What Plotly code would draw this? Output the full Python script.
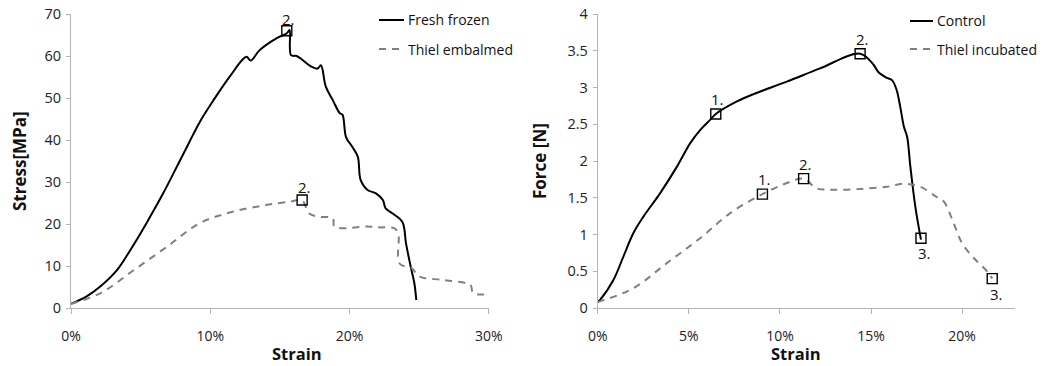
import plotly.graph_objects as go

# ---------------- data (strain in %) ----------------
ff_strain = [0, 1.1, 2.1, 3.3, 4.3, 5.42, 6.62, 7.81, 8.53, 9.25, 10.2, 11.4, 12.6, 12.9, 13.55, 14.75,
             15.5, 15.7, 15.8, 16.2, 16.5, 17.25, 17.7, 17.95, 18.3, 18.8, 19.3, 19.5, 19.76,
             20.2, 20.6, 20.8, 21.3, 21.9, 22.4, 22.6, 23.1, 23.8, 24.06, 24.4, 24.66, 24.8]
ff_stress = [1.0, 2.7, 5.1, 9.0, 14.0, 20.2, 27.3, 35.0, 39.7, 44.3, 49.3, 55.1, 59.8, 58.9, 61.4, 64.2,
             65.4, 66.2, 60.2, 60.0, 59.4, 57.5, 57.0, 57.8, 52.7, 49.5, 46.4, 46.0, 40.6,
             38.4, 36.0, 30.5, 28.1, 27.3, 25.7, 23.7, 22.5, 20.5, 15.4, 9.8, 5.9, 1.9]

te_strain = [0, 2.1, 4.5, 6.9, 9.25, 11.6, 14.0, 15.7, 16.6, 17.1, 17.85, 18.8, 18.9, 19.4, 21.2,
             22.15, 23.2, 23.5, 23.6, 24.5, 25.0, 26.7, 28.4, 28.7, 28.9, 29.9]
te_stress = [1.0, 3.5, 9.0, 14.6, 20.2, 22.9, 24.5, 25.3, 25.6, 22.5, 21.7, 21.4, 19.4, 19.0, 19.4,
             19.2, 19.0, 17.8, 10.6, 9.4, 7.5, 6.7, 5.9, 5.5, 3.5, 3.3]

ctrl_strain = [0, 0.13, 0.86, 1.41, 1.96, 2.5, 3.42, 4.34, 5.07, 5.62, 6.17, 6.48, 7.64, 8.55, 10.38,
               12.2, 14.4, 15.14, 15.4, 15.88, 16.15, 16.4, 16.6, 16.8, 16.98, 17.16, 17.43, 17.74]
ctrl_force = [0.08, 0.11, 0.38, 0.70, 1.02, 1.24, 1.56, 1.92, 2.24, 2.42, 2.56, 2.64, 2.81, 2.91, 3.08,
              3.26, 3.46, 3.31, 3.21, 3.13, 3.10, 2.97, 2.74, 2.47, 2.33, 1.92, 1.38, 0.93]

ti_strain = [0, 1.96, 3.79, 5.62, 7.27, 9.04, 10.38, 11.3, 12.0, 12.95, 14.4, 15.88, 16.8, 17.7,
             18.6, 18.99, 19.54, 20.0, 20.64, 21.4, 21.65]
ti_force = [0.08, 0.27, 0.61, 0.95, 1.29, 1.55, 1.70, 1.76, 1.63, 1.61, 1.62, 1.65, 1.69, 1.65,
            1.51, 1.45, 1.15, 0.88, 0.68, 0.49, 0.40]

# marked points
ff_mark_x, ff_mark_y, ff_mark_lbl = [15.5], [66.0], ["2."]
te_mark_x, te_mark_y, te_mark_lbl = [16.6], [25.7], ["2."]
ctrl_mark_x, ctrl_mark_y, ctrl_mark_lbl = [6.48, 14.4, 17.74], [2.64, 3.46, 0.95], ["1.", "2.", "3."]
ti_mark_x, ti_mark_y, ti_mark_lbl = [9.04, 11.3, 21.65], [1.55, 1.76, 0.40], ["1.", "2.", "3."]

left_xticks = [0, 10, 20, 30]
left_xtick_text = ["0%", "10%", "20%", "30%"]
right_xticks = [0, 5, 10, 15, 20]
right_xtick_text = ["0%", "5%", "10%", "15%", "20%"]

legend_left = ["Fresh frozen", "Thiel embalmed"]
legend_right = ["Control", "Thiel incubated"]

# ---------------- figure ----------------
W, H = 1042, 366
FONT = "Open Sans"
AX = "#b4b4b4"
SOLID = dict(color="black", width=2, shape="spline", smoothing=1.0)
DASH = dict(color="#808080", width=2, dash="7px,6px", shape="spline", smoothing=1.0)
MK = dict(symbol="square-open", size=10, color="black", line=dict(width=1.4, color="black"))

fig = go.Figure()
fig.add_trace(go.Scatter(x=ff_strain, y=ff_stress, mode="lines", line=SOLID, xaxis="x", yaxis="y"))
fig.add_trace(go.Scatter(x=te_strain, y=te_stress, mode="lines", line=DASH, xaxis="x", yaxis="y"))
fig.add_trace(go.Scatter(x=ff_mark_x + te_mark_x, y=ff_mark_y + te_mark_y, mode="markers",
                         marker=MK, xaxis="x", yaxis="y"))
fig.add_trace(go.Scatter(x=ctrl_strain, y=ctrl_force, mode="lines", line=SOLID, xaxis="x2", yaxis="y2"))
fig.add_trace(go.Scatter(x=ti_strain, y=ti_force, mode="lines", line=DASH, xaxis="x2", yaxis="y2"))
fig.add_trace(go.Scatter(x=ctrl_mark_x + ti_mark_x, y=ctrl_mark_y + ti_mark_y, mode="markers",
                         marker=MK, xaxis="x2", yaxis="y2"))

ann = []
def lab(xs, ys, ls, xr, yr, up_shift, down_shift):
    for x, y, l in zip(xs, ys, ls):
        below = l == "3."
        ann.append(dict(x=x, y=y, xref=xr, yref=yr, text=l, showarrow=False,
                        xanchor="center", yanchor="middle",
                        font=dict(family=FONT, size=15, color="#111"),
                        xshift=4 if below else 2,
                        yshift=-down_shift if below else up_shift))
lab(ff_mark_x, ff_mark_y, ff_mark_lbl, "x", "y", 12, 15)
lab(te_mark_x, te_mark_y, te_mark_lbl, "x", "y", 13, 15)
lab(ctrl_mark_x, ctrl_mark_y, ctrl_mark_lbl, "x2", "y2", 15, 15)
lab(ti_mark_x, ti_mark_y, ti_mark_lbl, "x2", "y2", 15, 15)

# axis titles
def px(x): return x / W
def py(y): return 1 - y / H
TF = dict(family=FONT, size=17, color="#111")
XTF = dict(family=FONT, size=16.5, color="#111")
C = dict(showarrow=False, xanchor="center", yanchor="middle", xref="paper", yref="paper")
ann.append(dict(x=px(297), y=py(353), text="<b>Strain</b>", font=XTF, **C))
ann.append(dict(x=px(796), y=py(353), text="<b>Strain</b>", font=XTF, **C))
ann.append(dict(x=px(20), y=py(161), text="<b>Stress[MPa]</b>", textangle=-90, font=TF, **C))
ann.append(dict(x=px(540), y=py(161), text="<b>Force [N]</b>", textangle=-90, font=TF, **C))

# legends (manual)
shapes = []
LF = dict(family=FONT, size=14, color="#111")
for (x0, x1, tx, rows, labels) in [(379, 404, 406, [20, 49], legend_left),
                                     (910, 933, 935, [21, 49], legend_right)]:
    for i, (ry, t) in enumerate(zip(rows, labels)):
        ln = dict(color="black", width=2) if i == 0 else dict(color="#808080", width=2, dash="7px,6px")
        shapes.append(dict(type="line", xref="paper", yref="paper", x0=px(x0), x1=px(x1),
                           y0=py(ry), y1=py(ry), line=ln))
        ann.append(dict(x=px(tx), y=py(ry), xref="paper", yref="paper", text=t, showarrow=False,
                        xanchor="left", yanchor="middle", font=LF))

axis_common = dict(showgrid=False, zeroline=False, showline=True, linecolor=AX, linewidth=1,
                   ticks="outside", tickcolor=AX, tickwidth=1, automargin=False)
XF = dict(family=FONT, size=14, color="#222")
YF = dict(family=FONT, size=14.5, color="#222")
ydom = [py(308), py(14)]
fig.update_layout(
    width=W, height=H, margin=dict(l=0, r=0, t=0, b=0, autoexpand=False),
    paper_bgcolor="white", plot_bgcolor="white", showlegend=False,
    xaxis=dict(domain=[px(71), px(488.7)], range=[0, 30], tickvals=left_xticks,
               ticktext=left_xtick_text, tickfont=XF,
               ticklen=5, ticklabelstandoff=10, anchor="y", **axis_common),
    yaxis=dict(domain=ydom, range=[0, 70], dtick=10, ticklen=4, ticklabelstandoff=2,
               tickfont=YF, anchor="x", **axis_common),
    xaxis2=dict(domain=[px(597.7), px(1015)], range=[0, 22.9], tickvals=right_xticks,
                ticktext=right_xtick_text, tickfont=XF,
                ticklen=5, ticklabelstandoff=10, anchor="y2", **axis_common),
    yaxis2=dict(domain=ydom, range=[0, 4], dtick=0.5, ticklen=4, ticklabelstandoff=2,
                tickfont=YF, anchor="x2", **axis_common),
    annotations=ann, shapes=shapes,
)
fig.write_html("out.html")
